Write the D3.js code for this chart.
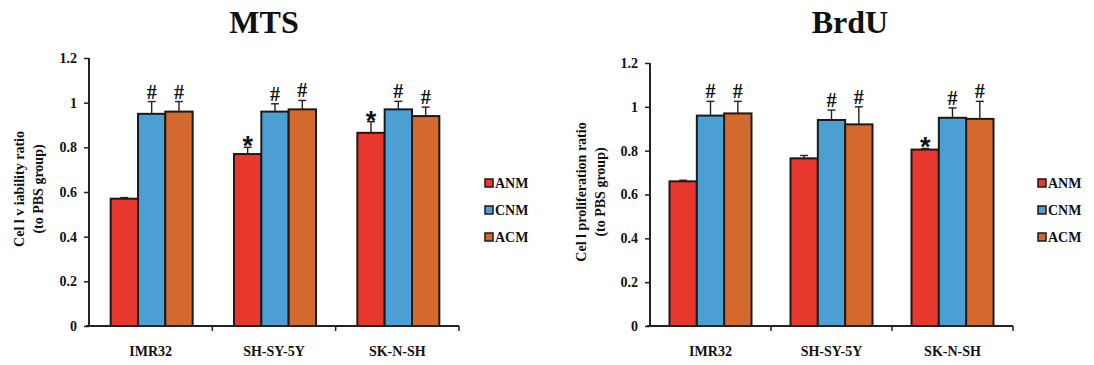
<!DOCTYPE html>
<html>
<head>
<meta charset="utf-8">
<script src="https://cdn.jsdelivr.net/npm/d3@7"></script>
<style>
  body { margin: 0; background: #fff; }
  svg { display: block; }
  text { font-family: "Liberation Serif", "Times New Roman", serif; font-weight: bold; fill: #111; }
</style>
</head>
<body>
<svg id="chart" width="1094" height="365"></svg>
<script>
// ---------- data ----------
const categories = ["IMR32", "SH-SY-5Y", "SK-N-SH"];
const seriesNames = ["ANM", "CNM", "ACM"];
const seriesColors = ["#e8372c", "#4b9fd2", "#d56a2f"];
const yTickValues = [0, 0.2, 0.4, 0.6, 0.8, 1, 1.2];
const yTickLabels = ["0", "0.2", "0.4", "0.6", "0.8", "1", "1.2"];

// MTS panel
const mtsANM = [0.57, 0.77, 0.865];
const mtsCNM = [0.95, 0.96, 0.97];
const mtsACM = [0.96, 0.97, 0.94];
const mtsErrANM = [0.005, 0.03, 0.05];
const mtsErrCNM = [0.055, 0.035, 0.036];
const mtsErrACM = [0.045, 0.04, 0.04];
const mtsMarkANM = ["", "*", "*"];
const mtsMarkCNM = ["#", "#", "#"];
const mtsMarkACM = ["#", "#", "#"];

// BrdU panel
const brduANM = [0.66, 0.765, 0.805];
const brduCNM = [0.96, 0.94, 0.95];
const brduACM = [0.97, 0.92, 0.945];
const brduErrANM = [0.005, 0.013, 0.005];
const brduErrCNM = [0.065, 0.045, 0.045];
const brduErrACM = [0.055, 0.08, 0.08];
const brduMarkANM = ["", "", "*"];
const brduMarkCNM = ["#", "#", "#"];
const brduMarkACM = ["#", "#", "#"];

const svg = d3.select("#chart");

function drawPanel(opt) {
  const g = svg.append("g");
  const x0 = d3.scaleBand().domain(categories).range([opt.x0, opt.x1]).padding(0);
  const groupW = 82;
  const x1 = d3.scaleBand().domain(seriesNames)
    .range([(x0.bandwidth() - groupW) / 2 + opt.gdx, (x0.bandwidth() + groupW) / 2 + opt.gdx]).padding(0);
  const y = d3.scaleLinear().domain([0, 1.2]).range([opt.yBottom, opt.yTop]);

  const rows = [];
  categories.forEach((c, i) => {
    seriesNames.forEach((s, j) => {
      rows.push({ cat: c, ser: s, color: seriesColors[j],
        v: opt.values[j][i], e: opt.errs[j][i], m: opt.marks[j][i] });
    });
  });

  // error bars (upper only)
  const eb = g.append("g");
  rows.forEach(d => {
    const cx = x0(d.cat) + x1(d.ser) + x1.bandwidth() / 2;
    eb.append("line").attr("x1", cx).attr("x2", cx)
      .attr("y1", y(d.v)).attr("y2", y(d.v + d.e))
      .attr("stroke", "#222").attr("stroke-width", 1.4);
    eb.append("line").attr("x1", cx - 4).attr("x2", cx + 4)
      .attr("y1", y(d.v + d.e)).attr("y2", y(d.v + d.e))
      .attr("stroke", "#222").attr("stroke-width", 1.4);
  });

  // bars
  g.append("g").selectAll("rect").data(rows).join("rect")
    .attr("x", d => x0(d.cat) + x1(d.ser))
    .attr("y", d => y(d.v))
    .attr("width", x1.bandwidth())
    .attr("height", d => y(0) - y(d.v))
    .attr("fill", d => d.color)
    .attr("stroke", "#1a1a1a").attr("stroke-width", 2);

  // significance marks
  rows.filter(d => d.m).forEach(d => {
    const cx = x0(d.cat) + x1(d.ser) + x1.bandwidth() / 2;
    const top = y(d.v + d.e);
    if (d.m === "#") {
      g.append("text").attr("x", cx).attr("y", top - 3)
        .attr("text-anchor", "middle").style("font-size", "20px").text("#");
    } else {
      g.append("text").attr("x", cx).attr("y", top + 8)
        .attr("text-anchor", "middle")
        .style("font-family", "'Liberation Sans', Arial, sans-serif")
        .style("font-size", "27px").text("*");
    }
  });

  // y axis
  const yAxis = g.append("g").attr("transform", `translate(${opt.x0},0)`)
    .call(d3.axisLeft(y).tickValues(yTickValues)
      .tickFormat((d, i) => yTickLabels[i]).tickSize(5).tickPadding(7));
  yAxis.select(".domain").attr("stroke", "#222").attr("stroke-width", 2)
    .attr("d", `M0,${opt.yTop}V${opt.yBottom}`);
  yAxis.selectAll(".tick line").attr("stroke", "#222").attr("stroke-width", 1.5);
  yAxis.selectAll("text").style("font-size", "14px")
    .style("font-family", "'Liberation Serif', serif").style("font-weight", "bold").attr("fill", "#222");

  // x axis
  const xAxis = g.append("g").attr("transform", `translate(0,${opt.yBottom})`);
  xAxis.append("line").attr("x1", opt.x0 - 3).attr("x2", opt.x1)
    .attr("y1", 0).attr("y2", 0).attr("stroke", "#222").attr("stroke-width", 2);
  categories.forEach((c, i) => {
    const bx = x0(c) + x0.bandwidth();
    xAxis.append("line").attr("x1", bx).attr("x2", bx).attr("y1", 0).attr("y2", 5)
      .attr("stroke", "#222").attr("stroke-width", 1.5);
    xAxis.append("text").attr("x", x0(c) + x0.bandwidth() / 2).attr("y", 30)
      .attr("text-anchor", "middle").style("font-size", "14px").text(c);
  });

  // titles
  g.append("text").attr("x", opt.titleX).attr("y", 33).attr("text-anchor", "middle")
    .style("font-size", "32px").text(opt.title);

  // y label
  opt.yLabel.forEach((t, i) => {
    g.append("text")
      .attr("transform", `translate(${opt.yLabelX[i]},${opt.yLabelY}) rotate(-90)`)
      .attr("text-anchor", "middle").attr("dominant-baseline", "central")
      .style("font-size", "14px").text(t);
  });

  // legend
  const lg = g.append("g");
  seriesNames.forEach((s, j) => {
    const ly = opt.legendY + j * 27;
    lg.append("rect").attr("x", opt.legendX).attr("y", ly - 4).attr("width", 8).attr("height", 8)
      .attr("fill", seriesColors[j]).attr("stroke", "#1a1a1a").attr("stroke-width", 1.5);
    lg.append("text").attr("x", opt.legendX + 10).attr("y", ly + 5)
      .style("font-size", "14px").text(s);
  });
}

drawPanel({
  title: "MTS", titleX: 264,
  x0: 89, x1: 459, yTop: 58, yBottom: 326, gdx: 1,
  values: [mtsANM, mtsCNM, mtsACM], errs: [mtsErrANM, mtsErrCNM, mtsErrACM],
  marks: [mtsMarkANM, mtsMarkCNM, mtsMarkACM],
  yLabel: ["Cel l v iability ratio", "(to PBS group)"], yLabelX: [19, 38], yLabelY: 189,
  legendX: 485, legendY: 183
});

drawPanel({
  title: "BrdU", titleX: 850,
  x0: 650, x1: 1013, yTop: 63, yBottom: 326, gdx: 0,
  values: [brduANM, brduCNM, brduACM], errs: [brduErrANM, brduErrCNM, brduErrACM],
  marks: [brduMarkANM, brduMarkCNM, brduMarkACM],
  yLabel: ["Cel l proliferation ratio", "(to PBS group)"], yLabelX: [581, 600], yLabelY: 192,
  legendX: 1038, legendY: 183
});
</script>
</body>
</html>
